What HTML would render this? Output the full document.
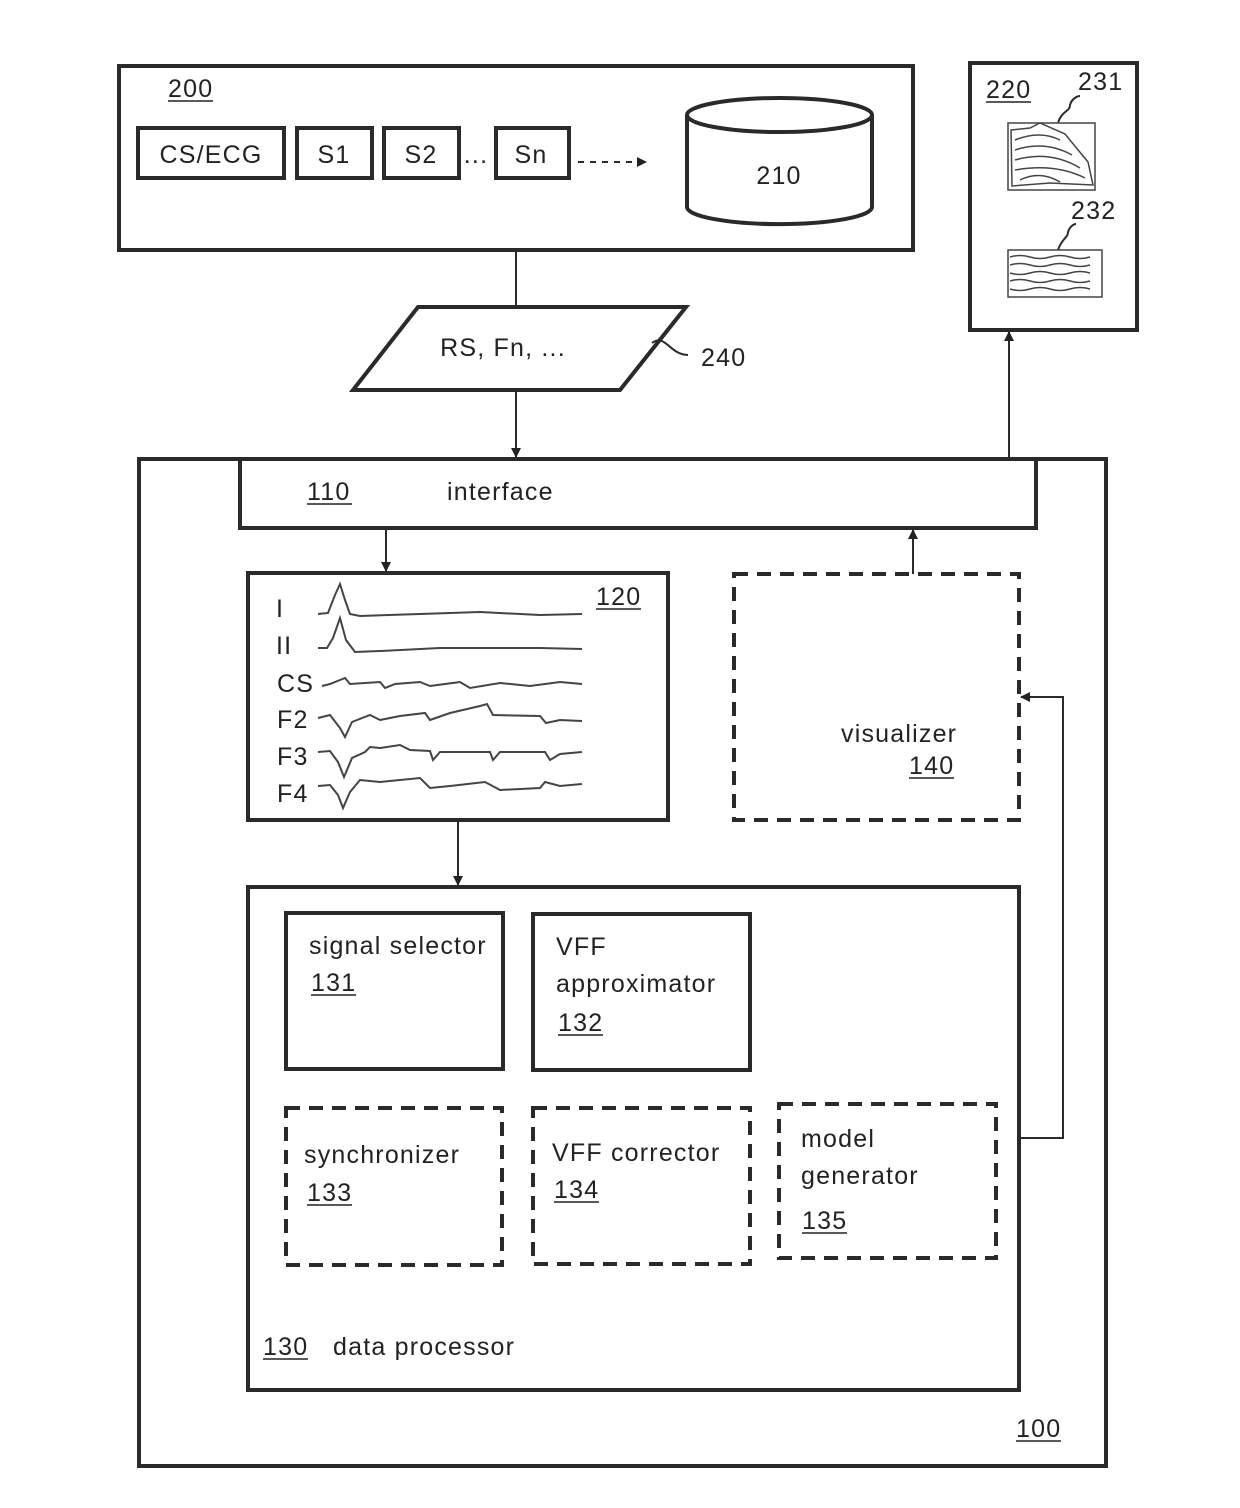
<!DOCTYPE html>
<html><head><meta charset="utf-8"><style>
html,body{margin:0;padding:0;background:#fff;}
svg{display:block;}
text{font-family:"Liberation Sans","DejaVu Sans",sans-serif;font-size:25px;fill:#222;letter-spacing:1.2px;}
</style></head><body>
<svg width="1240" height="1508" viewBox="0 0 1240 1508" xmlns="http://www.w3.org/2000/svg">
<defs>
<marker id="ah" markerWidth="10" markerHeight="10" refX="9" refY="5" orient="auto" markerUnits="userSpaceOnUse"><path d="M0,0 L10,5 L0,10 z" fill="#222"/></marker>
</defs>
<g fill="none" stroke="#2a2a2a" stroke-width="4">
<rect x="119" y="66" width="794" height="184"/>
<rect x="138" y="128" width="146" height="50"/>
<rect x="297" y="128" width="75" height="50"/>
<rect x="384" y="128" width="75" height="50"/>
<rect x="496" y="128" width="73" height="50"/>
<path d="M687,115 L687,207 A92,17 0 0 0 872,207 L872,115"/>
<ellipse cx="779.5" cy="115" rx="92.5" ry="17"/>
<rect x="970" y="63" width="167" height="267"/>
<rect x="139" y="459" width="967" height="1007"/>
<rect x="240" y="459" width="796" height="69"/>
<rect x="248" y="573" width="420" height="247"/>
<rect x="248" y="887" width="771" height="503"/>
<rect x="286" y="913" width="217" height="156"/>
<rect x="533" y="914" width="217" height="156"/>
<path d="M418,307 L686,307 L620,390 L353,390 Z"/>
</g>
<g fill="none" stroke="#2a2a2a" stroke-width="4" stroke-dasharray="14,9">
<rect x="734" y="574" width="285" height="246"/>
<rect x="286" y="1108" width="216" height="157"/>
<rect x="533" y="1108" width="217" height="156"/>
<rect x="779" y="1104" width="217" height="154"/>
</g>
<g fill="none" stroke="#2a2a2a" stroke-width="2">
<path d="M578,162 L646,162" stroke-dasharray="6,6" marker-end="url(#ah)"/>
<path d="M516,250 L516,307"/>
<path d="M516,390 L516,457" marker-end="url(#ah)"/>
<path d="M1009,459 L1009,332" marker-end="url(#ah)"/>
<path d="M386,528 L386,571" marker-end="url(#ah)"/>
<path d="M913,574 L913,530" marker-end="url(#ah)"/>
<path d="M458,820 L458,885" marker-end="url(#ah)"/>
<path d="M1019,1138 L1063,1138 L1063,697 L1021,697" marker-end="url(#ah)"/>
<path d="M652,343 C665,333 670,355 688,355"/>
<path d="M1058,123 C1062,110 1070,112 1070,105 C1072,98 1078,96 1080,96"/>
<path d="M1058,250 C1062,238 1068,238 1068,232 C1070,226 1074,224 1076,224"/>
</g>
<g fill="none" stroke="#444" stroke-width="1.5">
<rect x="1008" y="123" width="87" height="67"/>
<path d="M1011,130 L1030,128 L1040,123 L1065,134 L1088,162 L1093,185 L1050,183 L1012,186 Z"/>
<path d="M1015,140 Q1040,130 1060,140 M1015,150 Q1045,140 1072,155 M1015,160 Q1050,150 1080,168 M1015,170 Q1055,163 1085,178 M1020,180 Q1040,170 1060,182"/>
<rect x="1008" y="250" width="94" height="47"/>
<path d="M1010,257 q10,-3 20,0 t20,0 t20,0 t20,0 M1010,265 q10,-3 20,0 t20,0 t20,0 t20,0 M1010,273 q10,3 20,0 t20,0 t20,0 t20,0 M1010,281 q10,-3 20,0 t20,0 t20,0 t20,0 M1010,289 q10,3 20,0 t20,0 t20,0 t20,0"/>
</g>
<g fill="none" stroke="#444" stroke-width="2">
<path d="M318,614 L328,613 L335,595 L340,584 L345,600 L350,614 L360,616 L420,614 L480,612 L540,615 L582,614"/>
<path d="M318,648 L327,648 L333,638 L340,618 L346,640 L355,652 L380,651 L440,648 L500,648 L540,648 L582,649"/>
<path d="M322,686 L330,684 L340,680 L345,678 L350,684 L380,682 L385,688 L395,684 L420,682 L430,686 L460,682 L470,688 L500,683 L530,686 L560,682 L582,684"/>
<path d="M318,718 L330,715 L340,728 L345,737 L352,722 L370,715 L380,720 L400,716 L425,713 L430,720 L450,713 L480,706 L487,704 L493,715 L540,716 L546,723 L560,720 L582,721"/>
<path d="M318,752 L330,751 L338,762 L344,777 L352,758 L365,752 L370,747 L380,748 L400,745 L410,750 L430,751 L433,760 L440,752 L490,752 L493,760 L500,752 L545,752 L550,760 L560,754 L582,752"/>
<path d="M318,786 L330,785 L338,795 L343,808 L350,792 L360,780 L380,782 L420,778 L430,788 L450,786 L485,782 L500,790 L540,788 L545,782 L560,786 L582,784"/>
</g>
<text x="168" y="97">200</text><path d="M168,101 H213" stroke="#222" stroke-width="1.5"/>
<text x="211" y="163" text-anchor="middle">CS/ECG</text>
<text x="334" y="163" text-anchor="middle">S1</text>
<text x="421" y="163" text-anchor="middle">S2</text>
<text x="476" y="163" text-anchor="middle">...</text>
<text x="531" y="163" text-anchor="middle">Sn</text>
<text x="779" y="184" text-anchor="middle">210</text>
<text x="986" y="98">220</text><path d="M986,102 H1031" stroke="#222" stroke-width="1.5"/>
<text x="1078" y="90">231</text>
<text x="1071" y="219">232</text>
<text x="503" y="356" text-anchor="middle">RS, Fn, ...</text>
<text x="701" y="366">240</text>
<text x="307" y="500">110</text><path d="M307,504 H352" stroke="#222" stroke-width="1.5"/>
<text x="447" y="500">interface</text>
<text x="596" y="605">120</text><path d="M596,609 H641" stroke="#222" stroke-width="1.5"/>
<text x="276" y="617">I</text>
<text x="276" y="654">II</text>
<text x="277" y="692">CS</text>
<text x="277" y="728">F2</text>
<text x="277" y="765">F3</text>
<text x="277" y="802">F4</text>
<text x="841" y="742">visualizer</text>
<text x="909" y="774">140</text><path d="M909,778 H954" stroke="#222" stroke-width="1.5"/>
<text x="309" y="954">signal selector</text>
<text x="311" y="991">131</text><path d="M311,995 H356" stroke="#222" stroke-width="1.5"/>
<text x="556" y="955">VFF</text>
<text x="556" y="992">approximator</text>
<text x="558" y="1031">132</text><path d="M558,1035 H603" stroke="#222" stroke-width="1.5"/>
<text x="304" y="1163">synchronizer</text>
<text x="307" y="1201">133</text><path d="M307,1205 H352" stroke="#222" stroke-width="1.5"/>
<text x="552" y="1161">VFF corrector</text>
<text x="554" y="1198">134</text><path d="M554,1202 H599" stroke="#222" stroke-width="1.5"/>
<text x="801" y="1147">model</text>
<text x="801" y="1184">generator</text>
<text x="802" y="1229">135</text><path d="M802,1233 H847" stroke="#222" stroke-width="1.5"/>
<text x="263" y="1355">130</text><path d="M263,1359 H308" stroke="#222" stroke-width="1.5"/>
<text x="333" y="1355">data processor</text>
<text x="1016" y="1437">100</text><path d="M1016,1441 H1061" stroke="#222" stroke-width="1.5"/>
</svg>
</body></html>
